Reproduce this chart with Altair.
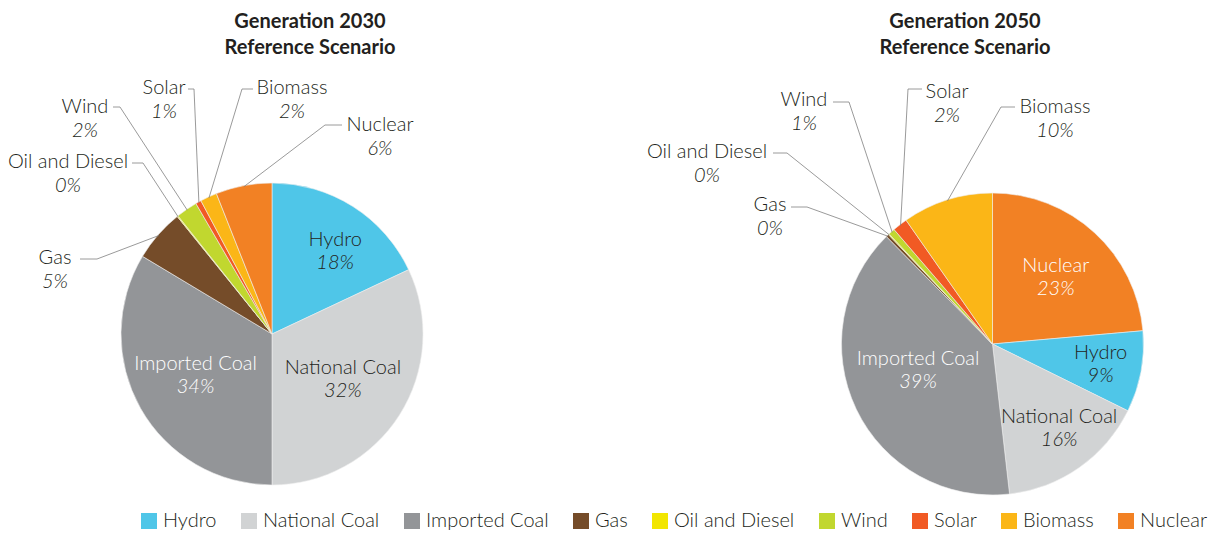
import math
import altair as alt
import pandas as pd

# ---------------- data ----------------
categories = ["Hydro", "National Coal", "Imported Coal", "Gas", "Oil and Diesel",
              "Wind", "Solar", "Biomass", "Nuclear"]
colors = ["#4fc6e8", "#d1d3d4", "#939598", "#754c29", "#f2e600",
          "#c1d72f", "#f15a24", "#fbb617", "#f28124"]
share_2030 = [18.0, 32.0, 33.6, 5.6, 0.1, 2.3, 0.6, 1.8, 6.0]
share_2050 = [8.7, 15.9, 39.4, 0.3, 0.1, 0.7, 1.6, 9.7, 23.6]
pct_2030 = ["18%", "32%", "34%", "5%", "0%", "2%", "1%", "2%", "6%"]
pct_2050 = ["9%", "16%", "39%", "0%", "0%", "1%", "2%", "10%", "23%"]
order_2030 = ["Hydro", "National Coal", "Imported Coal", "Gas", "Oil and Diesel",
              "Wind", "Solar", "Biomass", "Nuclear"]
order_2050 = ["Nuclear", "Hydro", "National Coal", "Imported Coal", "Gas",
              "Oil and Diesel", "Wind", "Solar", "Biomass"]
titles = [["Generation 2030", "Reference Scenario"], ["Generation 2050", "Reference Scenario"]]

# ---------------- layout ----------------
M = 8  # page margin
W, H = 1208, 527
FONT = "Lato"
DARK = "#231f20"
LINE_GAP = 23

pies = [
    dict(key="2030", cx=272 - M, cy=334 - M, r=151, share=share_2030, pct=pct_2030,
         order=order_2030, title_x=310 - M,
         inside={"Hydro": (104, 5, DARK), "National Coal": (84, 0, DARK),
                 "Imported Coal": (87, 1, "white")},
         outside={  # center x, name y, line start, elbow (page coords)
             "Gas": (55, 258, (80, 259), (97, 259)),
             "Oil and Diesel": (68, 162, (132, 163), (143, 163)),
             "Wind": (85, 107, (113, 107), (120, 107)),
             "Solar": (164, 88, (188, 89), (194, 89)),
             "Biomass": (292, 88, (253, 89), (242, 89)),
             "Nuclear": (380, 125, (342, 125), (325, 125)),
         }),
    dict(key="2050", cx=992.5 - M, cy=344 - M, r=151, share=share_2050, pct=pct_2050,
         order=order_2050, title_x=965 - M,
         inside={"Nuclear": (92, 1, "white"), "Hydro": (110, 0, DARK),
                 "National Coal": (108, -3, DARK), "Imported Coal": (79, 6, "white")},
         outside={
             "Gas": (770, 205, (791, 207), (807, 207)),
             "Oil and Diesel": (707, 152, (773, 153), (787, 153)),
             "Wind": (804, 100, (833, 102), (849, 102)),
             "Solar": (947, 92, (922, 89), (908, 89)),
             "Biomass": (1055, 107, (1015, 107), (1001, 107)),
         }),
]

arc_rows, name_rows, pct_rows, line_rows, title_rows = [], [], [], [], []
for k, p in enumerate(pies):
    vals = dict(zip(categories, p["share"]))
    pcts = dict(zip(categories, p["pct"]))
    cum = 0.0
    for i, c in enumerate(p["order"]):
        v = vals[c]
        arc_rows.append(dict(pie=p["key"], category=c, value=v, ord=i))
        mid = math.radians((cum + v / 2) / 100 * 360)
        cum += v
        if c in p["inside"]:
            rad, nudge, col = p["inside"][c]
            a = mid + math.radians(nudge)
            x = p["cx"] + rad * math.sin(a)
            y = p["cy"] - rad * math.cos(a)
            name_rows.append(dict(x=x, y=y - LINE_GAP / 2, text=c, tc=col))
            pct_rows.append(dict(x=x, y=y + LINE_GAP / 2, text=pcts[c], tc=col))
        if c in p["outside"]:
            lx, ly, s, e = p["outside"][c]
            name_rows.append(dict(x=lx - M, y=ly - M, text=c, tc=DARK))
            pct_rows.append(dict(x=lx - M, y=ly - M + LINE_GAP + 1, text=pcts[c], tc=DARK))
            ex = p["cx"] + (p["r"] - 1) * math.sin(mid)
            ey = p["cy"] - (p["r"] - 1) * math.cos(mid)
            lid = p["key"] + c
            line_rows += [dict(id=lid, seq=0, x=s[0] - M, y=s[1] - M),
                          dict(id=lid, seq=1, x=e[0] - M, y=e[1] - M),
                          dict(id=lid, seq=2, x=ex, y=ey)]
    for j, t in enumerate(titles[k]):
        title_rows.append(dict(x=p["title_x"], y=22 - M + j * 26, text=t))

arcs = pd.DataFrame(arc_rows)

color = alt.Color(
    "category:N",
    scale=alt.Scale(domain=categories, range=colors),
    legend=alt.Legend(
        orient="none", legendX=131, legendY=503, direction="horizontal", columns=9,
        columnPadding=22, title=None, symbolType="square", symbolSize=256,
        symbolStrokeWidth=0, labelFont=FONT, labelFontSize=20, labelFontWeight=300,
        labelColor=DARK, labelOffset=4, padding=0, labelLimit=300,
    ),
)

layers = []
for p in pies:
    layers.append(
        alt.Chart(arcs[arcs.pie == p["key"]])
        .mark_arc(outerRadius=p["r"], stroke="#eeeeee", strokeWidth=0.6)
        .encode(
            theta=alt.Theta("value:Q", stack=True, scale=alt.Scale(domain=[0, 100])),
            order=alt.Order("ord:Q"),
            color=color,
            x=alt.value(p["cx"]),
            y=alt.value(p["cy"]),
        )
    )

xs = dict(x=alt.X("x:Q", scale=None, axis=None), y=alt.Y("y:Q", scale=None, axis=None))

lines = alt.Chart(pd.DataFrame(line_rows)).mark_line(
    color="#808080", strokeWidth=0.8
).encode(detail="id:N", order="seq:Q", **xs)

names = alt.Chart(pd.DataFrame(name_rows)).mark_text(
    font=FONT, fontSize=20, fontWeight=300, baseline="middle", align="center"
).encode(text="text:N", color=alt.Color("tc:N", scale=None), **xs)

pcts = alt.Chart(pd.DataFrame(pct_rows)).mark_text(
    font=FONT, fontSize=20, fontWeight=300, fontStyle="italic", baseline="middle", align="center"
).encode(text="text:N", color=alt.Color("tc:N", scale=None), **xs)

heads = alt.Chart(pd.DataFrame(title_rows)).mark_text(
    font=FONT, fontSize=20, fontWeight="bold", baseline="middle", align="center", color=DARK
).encode(text="text:N", **xs)

chart = (
    alt.layer(*layers, lines, names, pcts, heads)
    .resolve_scale(theta="independent")
    .properties(width=W, height=H, padding=0, autosize=alt.AutoSizeParams(type="none"))
    .configure_view(stroke=None)
)

chart.save("out.html", embed_options={"renderer": "svg", "actions": False})
